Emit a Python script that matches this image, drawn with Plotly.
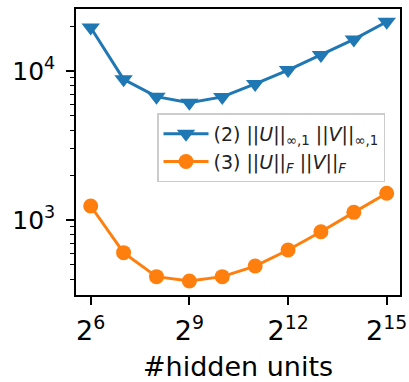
import plotly.graph_objects as go

hidden_units = [2**6, 2**7, 2**8, 2**9, 2**10, 2**11, 2**12, 2**13, 2**14, 2**15]
norm_inf = [19600, 8800, 6730, 6120, 6700, 8190, 10150, 12800, 16300, 21400]
norm_fro = [1242, 604, 417, 390, 417, 491, 629, 834, 1126, 1511]

x_tickvals = [2**6, 2**9, 2**12, 2**15]
x_ticktext = ["2<sup>6</sup>", "2<sup>9</sup>", "2<sup>12</sup>", "2<sup>15</sup>"]
y_tickvals = [1000, 10000]
y_ticktext = ["10<sup>3</sup>", "10<sup>4</sup>"]
y_minor = [400, 500, 600, 700, 800, 900, 2000, 3000, 4000, 5000, 6000, 7000, 8000, 9000, 20000]

blue = "#1f77b4"
orange = "#ff7f0e"
font = "DejaVu Sans"

fig = go.Figure()
fig.add_trace(go.Scatter(
    x=hidden_units, y=norm_inf, mode="lines+markers",
    name="(2) ||<i>U</i>||<sub>∞,1</sub> ||<i>V</i>||<sub>∞,1</sub>",
    line=dict(color=blue, width=3),
    marker=dict(symbol="triangle-down", size=16, color=blue),
))
fig.add_trace(go.Scatter(
    x=hidden_units, y=norm_fro, mode="lines+markers",
    name="(3) ||<i>U</i>||<sub><i>F</i></sub> ||<i>V</i>||<sub><i>F</i></sub>",
    line=dict(color=orange, width=3),
    marker=dict(symbol="circle", size=15, color=orange),
))

fig.update_layout(
    width=409, height=382,
    margin=dict(l=76, r=9, t=9, b=87, autoexpand=False),
    paper_bgcolor="white", plot_bgcolor="white",
    font=dict(family=font, color="black"),
    showlegend=True,
    legend=dict(
        x=0.25, y=0.635, xanchor="left", yanchor="top",
        bgcolor="rgba(255,255,255,0.8)", bordercolor="#cccccc", borderwidth=1.5,
        font=dict(family=font, size=19, color="#222222"),
        itemwidth=45,
        tracegroupgap=6,
    ),
)
fig.update_xaxes(
    type="log", range=[1.6716, 4.637], automargin=False,
    tickmode="array", tickvals=x_tickvals, ticktext=x_ticktext,
    tickfont=dict(family=font, size=27),
    ticks="outside", ticklen=8, tickwidth=1.5, tickcolor="black",
    ticklabelstandoff=3,
    showline=True, linecolor="black", linewidth=1.5, mirror=True,
    showgrid=False, zeroline=False,
    title=dict(text="#hidden units", font=dict(family=font, size=27), standoff=15),
)
fig.update_yaxes(
    type="log", range=[2.497, 4.416], automargin=False,
    tickmode="array", tickvals=y_tickvals, ticktext=y_ticktext,
    tickfont=dict(family=font, size=25),
    ticks="outside", ticklen=8, tickwidth=1.5, tickcolor="black",
    ticklabelstandoff=6,
    minor=dict(tickmode="array", tickvals=y_minor, ticks="outside", ticklen=4,
               tickwidth=1, tickcolor="black", showgrid=False),
    showline=True, linecolor="black", linewidth=1.5, mirror=True,
    showgrid=False, zeroline=False,
)

fig.write_html("out.html")
